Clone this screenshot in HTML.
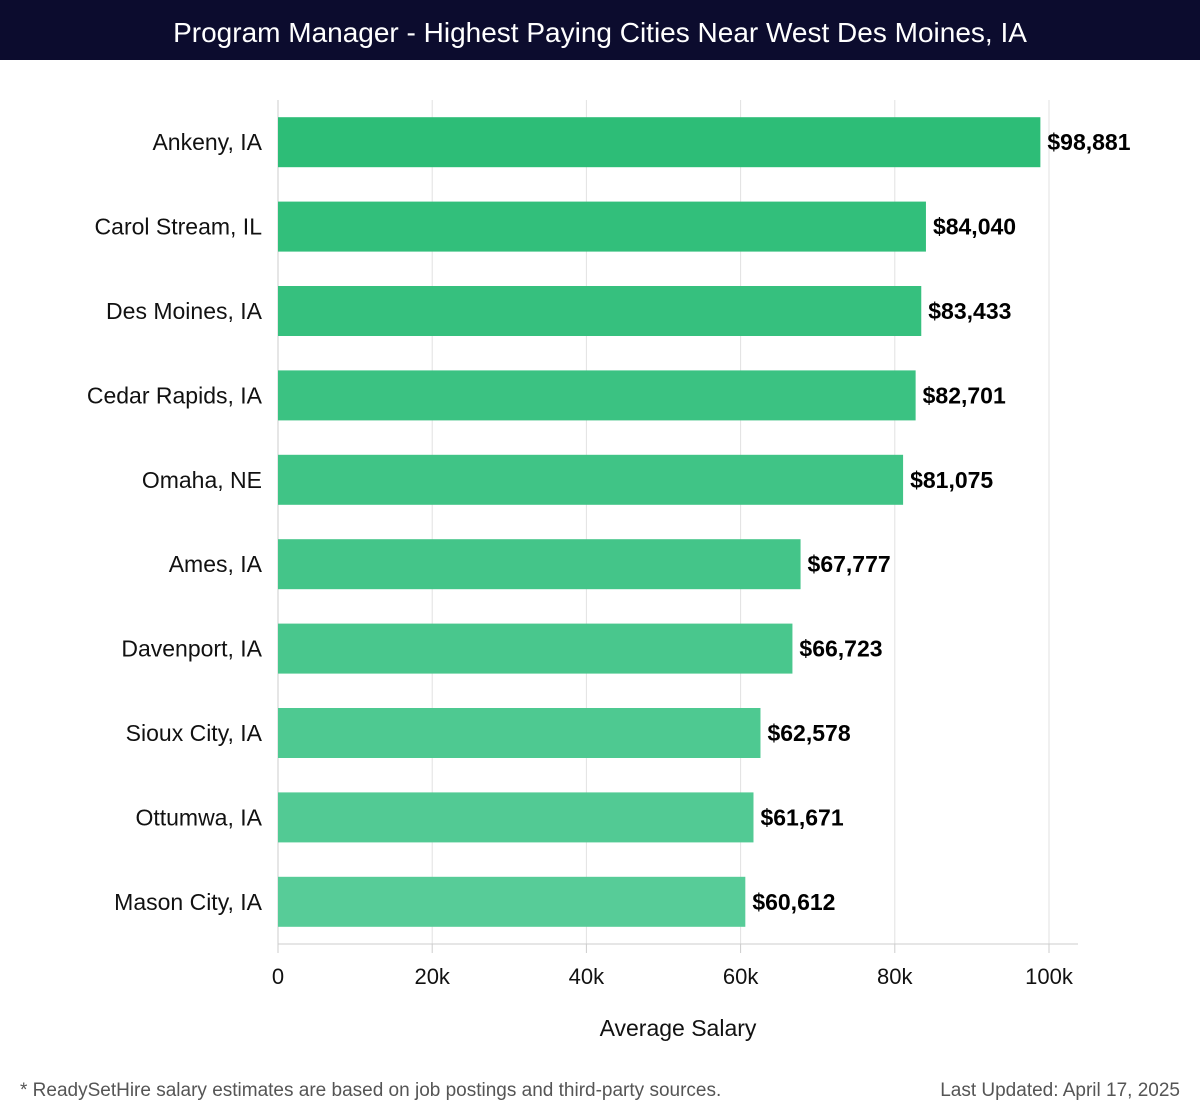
<!DOCTYPE html>
<html><head><meta charset="utf-8"><style>
body{margin:0;background:#fff;font-family:"Liberation Sans","DejaVu Sans",sans-serif;}
#hdr{position:absolute;left:0;top:0;width:1200px;height:60px;background:#0c0c2e;color:#fff;font-size:28px;text-align:center;line-height:66px;}
.foot{position:absolute;top:1080px;font-size:19px;color:#555;}
</style></head><body>
<div id="hdr">Program Manager - Highest Paying Cities Near West Des Moines, IA</div>
<svg id="chart" width="1200" height="1120" style="position:absolute;left:0;top:0;z-index:-1"></svg>
<div class="foot" style="left:20px">* ReadySetHire salary estimates are based on job postings and third-party sources.</div>
<div class="foot" style="right:20px">Last Updated: April 17, 2025</div>
<script>
const categories=["Ankeny, IA","Carol Stream, IL","Des Moines, IA","Cedar Rapids, IA","Omaha, NE","Ames, IA","Davenport, IA","Sioux City, IA","Ottumwa, IA","Mason City, IA"];
const salaries=[98881,84040,83433,82701,81075,67777,66723,62578,61671,60612];
const tickValues=[0,20000,40000,60000,80000,100000];
const tickLabels=["0","20k","40k","60k","80k","100k"];

const svg=document.getElementById('chart');
const NS='http://www.w3.org/2000/svg';
const x0=278,x1=1049,yTop=100,yBot=944,xMax=100000;
const xs=v=>x0+(v/xMax)*(x1-x0);
const band=(yBot-yTop)/categories.length;
const ys=i=>yTop+band*i+band/2;
function mk(t,a,txt){const e=document.createElementNS(NS,t);for(const k in a)e.setAttribute(k,a[k]);if(txt!==undefined)e.textContent=txt;svg.appendChild(e);return e;}
tickValues.forEach((v,i)=>{
  const g=mk('line',{x1:xs(v),x2:xs(v),y1:yTop,y2:yBot,stroke:'#e2e2e2','stroke-width':1});
  
  
  const tk=mk('line',{x1:xs(v),x2:xs(v),y1:yBot,y2:yBot+9,stroke:'#ccc','stroke-width':1});
  
  
  const l=mk('text',{x:xs(v),y:984,'text-anchor':'middle','font-size':22,fill:'#111'},tickLabels[i]);
  
  
});
const ax=mk('line',{x1:x0,x2:1078,y1:yBot,y2:yBot,stroke:'#ccc','stroke-width':1});


const ay=mk('line',{x1:x0,x2:x0,y1:yTop,y2:yBot,stroke:'#ccc','stroke-width':1});


const c0=[45,189,119],c1=[87,204,152];
categories.forEach((c,i)=>{
  const t=i/(categories.length-1);
  const col=`rgb(${c0.map((v,k)=>Math.round(v+(c1[k]-v)*t)).join(',')})`;
  const y=ys(i);
  const r=mk('rect',{x:x0,y:y-25,width:xs(salaries[i])-x0,height:50,fill:col});
  
  
  const lab=mk('text',{x:262,y:y+8,'text-anchor':'end','font-size':23,fill:'#111'},c);
  
  
  const val=mk('text',{x:xs(salaries[i])+7,y:y+8,'font-size':23,'font-weight':'bold',fill:'#000'},'$'+salaries[i].toLocaleString('en-US'));
  
  
});
const xt=mk('text',{x:678,y:1036,'text-anchor':'middle','font-size':23,fill:'#111'},'Average Salary');


</script>
</body></html>
